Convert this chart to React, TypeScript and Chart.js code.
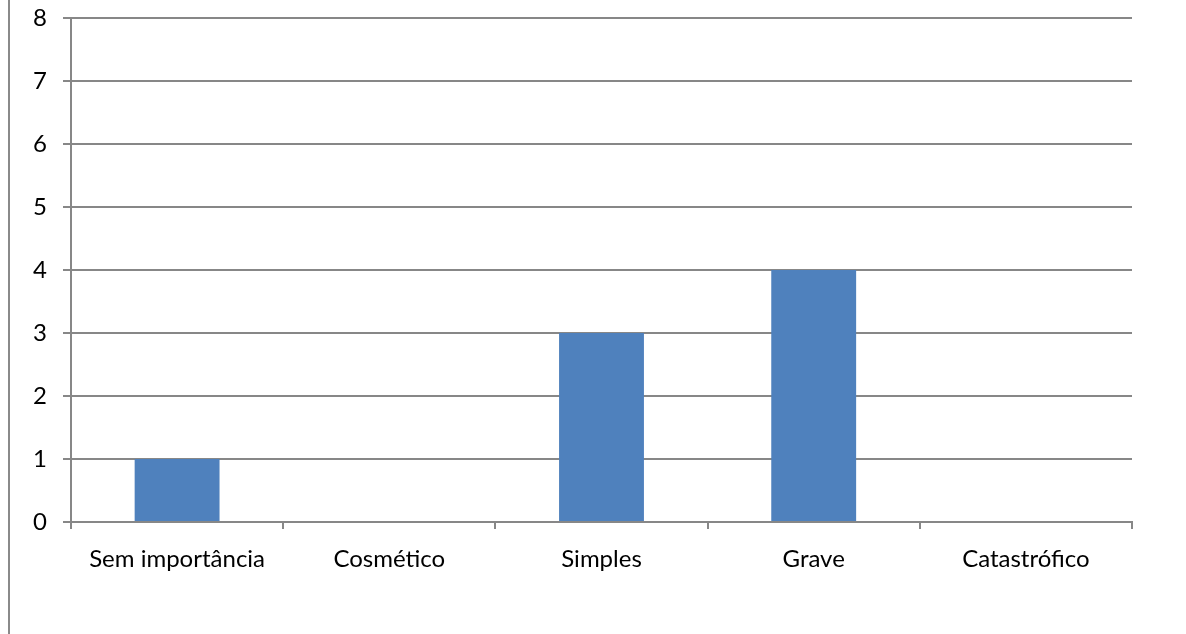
import React, { useEffect, useRef } from "react";
import { Chart, registerables } from "chart.js";

Chart.register(...registerables);

const categories = ["Sem importância", "Cosmético", "Simples", "Grave", "Catastrófico"];
const values = [1, 0, 3, 4, 0];
const yMin = 0;
const yMax = 8;
const yStep = 1;

const GRID = "#878787";
const BAR = "#4F81BD";
const FONT = "Lato, 'Noto Sans', sans-serif";

export default function App() {
  const ref = useRef<HTMLCanvasElement | null>(null);

  useEffect(() => {
    if (!ref.current) return;
    const chart = new Chart(ref.current, {
      type: "bar",
      data: {
        labels: categories,
        datasets: [
          {
            data: values,
            backgroundColor: BAR,
            borderWidth: 0,
            categoryPercentage: 0.4,
            barPercentage: 1,
          },
        ],
      },
      options: {
        animation: false,
        responsive: false,
        maintainAspectRatio: false,
        layout: { padding: { left: 0, right: 54, top: 18, bottom: 0 } },
        plugins: { legend: { display: false }, tooltip: { enabled: false } },
        scales: {
          x: {
            offset: true,
            grid: {
              offset: true,
              drawOnChartArea: false,
              drawTicks: true,
              tickLength: 7,
              color: GRID,
              lineWidth: 2,
            },
            border: { display: true, color: GRID, width: 2 },
            ticks: {
              color: "#000",
              font: { family: FONT, size: 24 },
              padding: 16,
              maxRotation: 0,
              autoSkip: false,
            },
            afterFit: (s: any) => {
              s.height = 112;
              s.paddingLeft = 0;
              s.paddingRight = 0;
            },
          },
          y: {
            min: yMin,
            max: yMax,
            grid: { color: GRID, lineWidth: 2, tickLength: 8, drawTicks: true },
            border: { display: true, color: GRID, width: 2 },
            ticks: {
              stepSize: yStep,
              color: "#000",
              font: { family: FONT, size: 24 },
              padding: 16,
            },
            afterFit: (s: any) => {
              s.width = 71;
              s.paddingTop = 0;
              s.paddingBottom = 0;
            },
          },
        },
      },
    });
    return () => chart.destroy();
  }, []);

  return (
    <div>
      <canvas
        ref={ref}
        width={1186}
        height={634}
        style={{ position: "fixed", left: 0, top: 0, width: 1186, height: 634 }}
      />
      <div
        style={{
          position: "fixed",
          left: 8,
          top: 0,
          width: 0,
          height: 634,
          borderLeft: "2px solid #8a8a8a",
        }}
      />
    </div>
  );
}
